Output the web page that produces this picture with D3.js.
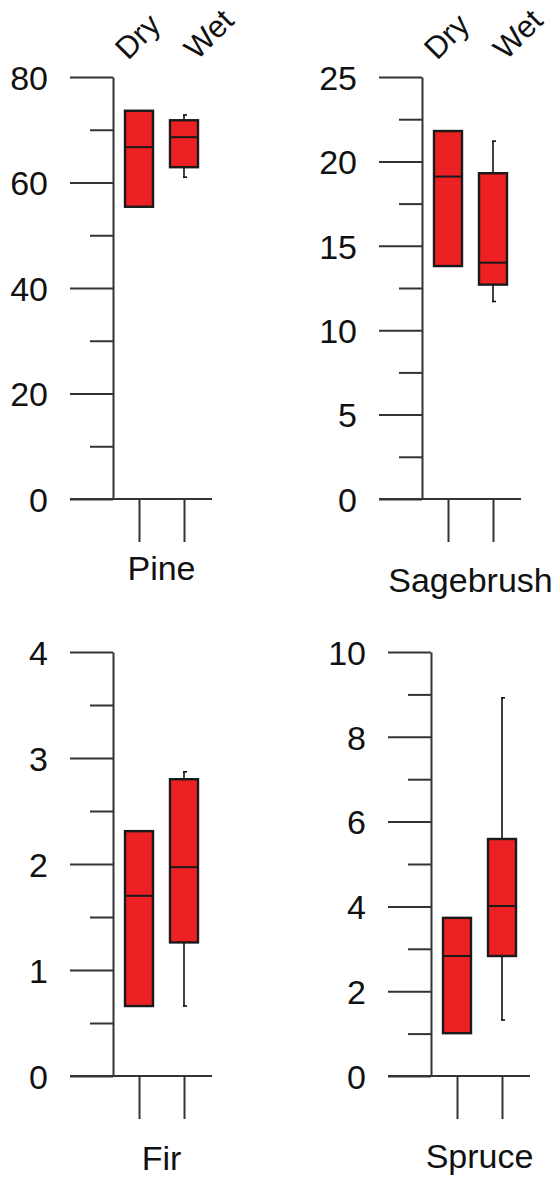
<!DOCTYPE html>
<html>
<head>
<meta charset="utf-8">
<script src="https://cdn.jsdelivr.net/npm/d3@7"></script>
<style>
  body { margin: 0; background: #fff; }
  svg text { font-family: "Liberation Sans", Arial, sans-serif; fill: #111; }
</style>
</head>
<body>
<svg id="chart" width="559" height="1181"></svg>
<script>
// box stats per group: [whisker low, q1, median, q3, whisker high]
const species = ['Pine', 'Sagebrush', 'Fir', 'Spruce'];
const conditions = ['Dry', 'Wet'];

const pineDry = [55.4, 55.4, 66.7, 73.6, 73.6];
const pineWet = [61.0, 62.9, 68.6, 71.8, 72.8];
const sageDry = [13.8, 13.8, 19.1, 21.8, 21.8];
const sageWet = [11.7, 12.7, 14.0, 19.3, 21.2];
const firDry = [0.66, 0.66, 1.70, 2.31, 2.31];
const firWet = [0.66, 1.26, 1.97, 2.80, 2.87];
const spruceDry = [1.01, 1.01, 2.83, 3.73, 3.73];
const spruceWet = [1.32, 2.83, 4.01, 5.59, 8.92];

const pineTicks = [0, 20, 40, 60, 80];
const sageTicks = [0, 5, 10, 15, 20, 25];
const firTicks = [0, 1, 2, 3, 4];
const spruceTicks = [0, 2, 4, 6, 8, 10];

const pineMinor = [10, 30, 50, 70];
const sageMinor = [2.5, 7.5, 12.5, 17.5, 22.5];
const firMinor = [0.5, 1.5, 2.5, 3.5];
const spruceMinor = [1, 3, 5, 7, 9];

const panels = [
    { name: species[0], boxes: [pineDry, pineWet], ticks: pineTicks, minor: pineMinor,
      ax: 113, top: 77, bottom: 499, titleDy: 81, showCond: true },
    { name: species[1], boxes: [sageDry, sageWet], ticks: sageTicks, minor: sageMinor,
      ax: 422, top: 77, bottom: 499, titleDy: 93, showCond: true },
    { name: species[2], boxes: [firDry, firWet], ticks: firTicks, minor: firMinor,
      ax: 113, top: 652, bottom: 1076, titleDy: 94, showCond: false },
    { name: species[3], boxes: [spruceDry, spruceWet], ticks: spruceTicks, minor: spruceMinor,
      ax: 431, top: 652, bottom: 1076, titleDy: 92, showCond: false }
];

const svg = d3.select('#chart');
const fontSize = 34;
const boxW = 28;
const red = '#ed2024';
const axisColor = '#333';

panels.forEach(p => {
    const g = svg.append('g');

    const y = d3.scaleLinear()
        .domain(d3.extent(p.ticks))
        .range([p.bottom, p.top]);

    const x = d3.scalePoint()
        .domain(conditions)
        .range([p.ax + 26, p.ax + 71]);

    // major ticks with labels
    g.append('g')
        .attr('transform', `translate(${p.ax},0)`)
        .call(d3.axisLeft(y).tickValues(p.ticks).tickFormat(d3.format('~g'))
            .tickSize(43).tickSizeOuter(0).tickPadding(22));

    // minor ticks
    g.append('g')
        .attr('transform', `translate(${p.ax},0)`)
        .call(d3.axisLeft(y).tickValues(p.minor).tickSize(23).tickSizeOuter(0).tickFormat(''))
        .select('.domain').remove();

    // category ticks hanging below baseline
    g.append('g')
        .attr('transform', `translate(0,${y(0)})`)
        .call(d3.axisBottom(x).tickSize(43).tickSizeOuter(0).tickFormat(''))
        .select('.domain').remove();

    // baseline
    g.append('line')
        .attr('x1', p.ax - 43).attr('x2', p.ax + 99)
        .attr('y1', y(0)).attr('y2', y(0))
        .attr('stroke', axisColor).attr('stroke-width', 2);

    g.selectAll('.tick line').attr('stroke', axisColor).attr('stroke-width', 2);
    g.selectAll('.domain').attr('stroke', axisColor).attr('stroke-width', 2);
    g.selectAll('.tick text')
        .attr('font-size', fontSize)
        .attr('fill', '#111')
        .attr('dy', '0.36em');

    // boxes
    const bx = g.selectAll('.box')
        .data(p.boxes.map((b, i) => ({ cond: conditions[i], s: b })))
        .join('g')
        .attr('class', 'box');

    bx.append('line')
        .attr('x1', d => x(d.cond)).attr('x2', d => x(d.cond))
        .attr('y1', d => y(d.s[0])).attr('y2', d => y(d.s[4]))
        .attr('stroke', '#111').attr('stroke-width', 1.6);

    bx.selectAll('.cap')
        .data(d => [[d.cond, d.s[0]], [d.cond, d.s[4]]])
        .join('line')
        .attr('x1', d => x(d[0]) - 1).attr('x2', d => x(d[0]) + 3)
        .attr('y1', d => y(d[1])).attr('y2', d => y(d[1]))
        .attr('stroke', '#111').attr('stroke-width', 1.6);

    bx.append('rect')
        .attr('x', d => x(d.cond) - boxW / 2)
        .attr('width', boxW)
        .attr('y', d => y(d.s[3]))
        .attr('height', d => y(d.s[1]) - y(d.s[3]))
        .attr('fill', red)
        .attr('stroke', '#1a1a1a')
        .attr('stroke-width', 2.4);

    bx.append('line')
        .attr('x1', d => x(d.cond) - boxW / 2).attr('x2', d => x(d.cond) + boxW / 2)
        .attr('y1', d => y(d.s[2])).attr('y2', d => y(d.s[2]))
        .attr('stroke', '#1a1a1a').attr('stroke-width', 2);

    // species title
    g.append('text')
        .attr('x', d3.mean(x.range()))
        .attr('y', y(0) + p.titleDy)
        .attr('text-anchor', 'middle')
        .attr('font-size', fontSize)
        .text(p.name);

    // rotated condition labels on the top row
    if (p.showCond) {
        const condOffset = { Dry: -11, Wet: 13 };
        g.selectAll('.cond')
            .data(conditions)
            .join('text')
            .attr('class', 'cond')
            .attr('font-size', 31)
            .attr('text-anchor', 'start')
            .attr('transform', d => `translate(${x(d) + condOffset[d]},${p.top - 16}) rotate(-45)`)
            .text(d => d);
    }
});
</script>
</body>
</html>
